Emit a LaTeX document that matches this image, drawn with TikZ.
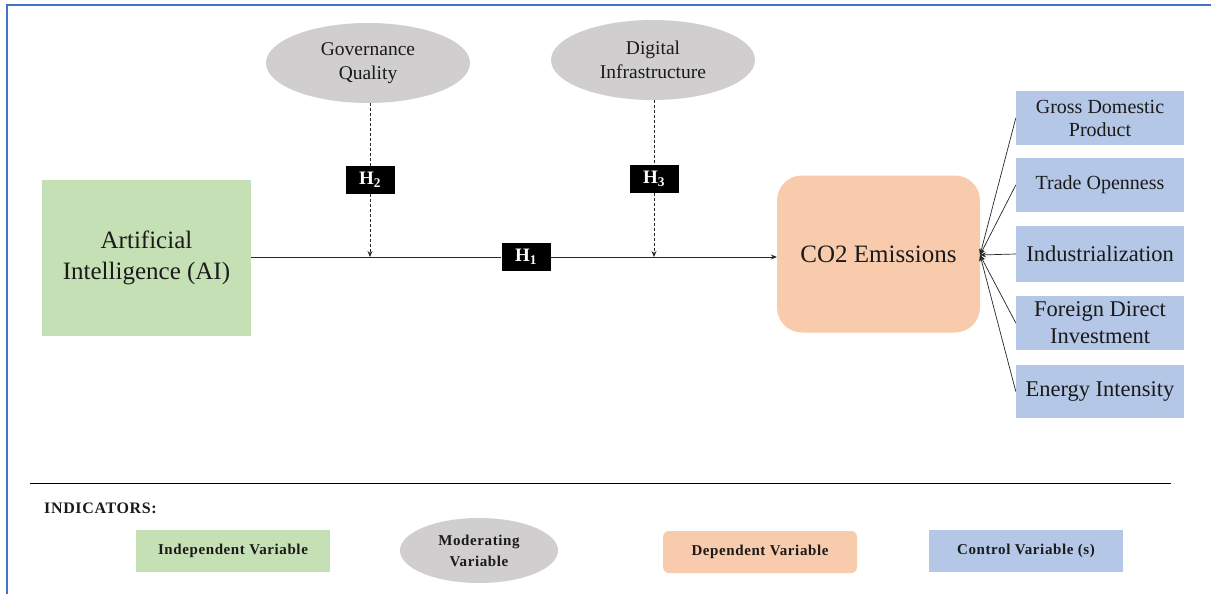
\documentclass[tikz,border=0pt]{standalone}
\usepackage{fontspec}
\setmainfont{Liberation Serif}
\usetikzlibrary{shapes.geometric,arrows.meta}
\definecolor{grn}{HTML}{C5E0B4}
\definecolor{org}{HTML}{F8CBAD}
\definecolor{blu}{HTML}{B4C7E7}
\definecolor{gry}{HTML}{D0CECE}
\definecolor{framec}{HTML}{4472C4}
\definecolor{txt}{HTML}{1A1A1A}
\begin{document}
\begin{tikzpicture}[x=1pt,y=-1pt,
  box/.style={draw=none,inner sep=0pt,align=center,text=txt},
  oval/.style={ellipse,fill=gry,draw=none,inner sep=0pt,align=center,text=txt},
  hbox/.style={fill=black,text=white,inner sep=0pt,minimum width=49,minimum height=28,font=\fontsize{19}{20}\selectfont\bfseries},
  ctrl/.style={box,fill=blu,minimum width=168,minimum height=54},
  arr/.style={-{Stealth[length=6pt,width=5pt]},line width=0.8pt,draw=black!85},
  dashln/.style={dash pattern=on 3pt off 2pt},
  legfont/.style={font=\fontsize{15}{21}\selectfont\bfseries\addfontfeatures{LetterSpace=4}},
  leg/.style={box,minimum width=194,minimum height=42,legfont}
]
\useasboundingbox (0,0) rectangle (1211,594);
\fill[white] (0,0) rectangle (1211,594);
\draw[framec,line width=2pt] (7,594) -- (7,5) -- (1211,5);

% main nodes
\node[box,fill=grn,minimum width=209,minimum height=156,font=\fontsize{25}{30}\selectfont] (ai) at (146.5,258) {Artificial\\[1pt]Intelligence (AI)};
\node[box,fill=org,rounded corners=25pt,minimum width=203,minimum height=157,font=\fontsize{25}{28}\selectfont] (co2) at (878.5,254) {CO2 Emissions};
\node[oval,minimum width=204,minimum height=80,font=\fontsize{19.5}{24}\selectfont] (gov) at (368,63) {Governance\\Quality};
\node[oval,minimum width=204,minimum height=80,font=\fontsize{19.5}{24}\selectfont] (dig) at (653,60) {Digital\\Infrastructure};

\node[hbox] (h1) at (526,257) {H\textsubscript{1}};
\node[hbox] (h2) at (370,180) {H\textsubscript{2}};
\node[hbox] (h3) at (654,179) {H\textsubscript{3}};

\node[ctrl,font=\fontsize{20}{23}\selectfont] (gdp) at (1100,118) {Gross Domestic\\Product};
\node[ctrl,font=\fontsize{20}{23}\selectfont] (trd) at (1100,185) {Trade Openness};
\node[ctrl,minimum height=56,font=\fontsize{22.5}{26}\selectfont] (ind) at (1100,254) {Industrialization};
\node[ctrl,font=\fontsize{22.5}{27}\selectfont] (fdi) at (1100,323) {Foreign Direct\\Investment};
\node[ctrl,minimum height=53,font=\fontsize{22.5}{26}\selectfont] (eng) at (1100,391.5) {Energy Intensity};

% connectors
\draw[line width=0.8pt,draw=black!85] (ai.east |- h1) -- (h1.west);
\draw[arr] (h1.east) -- (co2.west |- h1);
\coordinate (m2) at (h2 |- h1);
\coordinate (m3) at (h3 |- h1);
\draw[line width=0.8pt,dashln,draw=black!85] (gov.south -| h2) -- (h2.north);
\draw[arr,dashln] (h2.south) -- (m2);
\draw[line width=0.8pt,dashln,draw=black!85] (dig.south -| h3) -- (h3.north);
\draw[arr,dashln] (h3.south) -- (m3);

\coordinate (ce) at (980,255);
\foreach \n in {gdp,trd,ind,fdi,eng}
  \draw[arr,line width=0.7pt] (\n.west) -- (ce);

% legend
\draw[line width=1pt] (30,483) -- (1171,483);
\node[anchor=west,font=\fontsize{16}{18}\selectfont\bfseries\addfontfeatures{LetterSpace=4},text=txt,inner sep=0pt] (ind0) at (44,508) {INDICATORS:};
\node[leg,fill=grn] (l1) at (233,551) {Independent Variable};
\node[oval,minimum width=158,minimum height=65,legfont] (l2) at (479,550.5) {Moderating\\Variable};
\node[leg,fill=org,rounded corners=6pt] (l3) at (760,552) {Dependent Variable};
\node[leg,fill=blu] (l4) at (1026,551) {Control Variable (s)};
\end{tikzpicture}
\end{document}
